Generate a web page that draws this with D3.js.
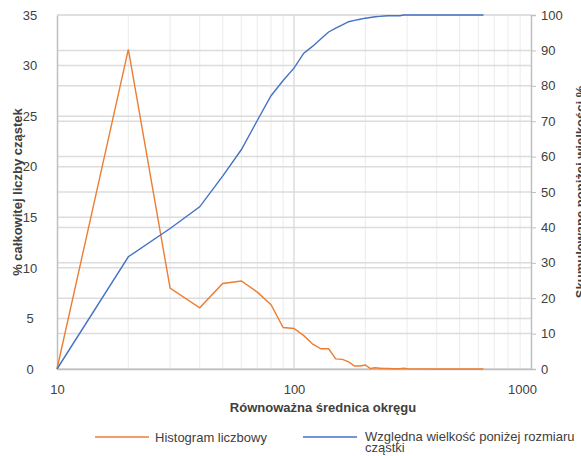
<!DOCTYPE html>
<html>
<head>
<meta charset="utf-8">
<script src="https://cdn.jsdelivr.net/npm/d3@7"></script>
<style>
  body { margin: 0; background: #fff; }
  text { font-family: "Liberation Sans", Arial, sans-serif; fill: #404040; }
</style>
</head>
<body>
<script>

// particle size bins (circle equivalent diameter)
var sizes = [10, 20, 30, 40, 50, 60, 70, 80, 90, 100,
  110, 120, 130, 140, 150, 160, 170, 180, 190, 200,
  210, 220, 230, 240, 250, 260, 270, 280, 290, 300,
  400, 500, 630];

// % of total particle count
var histogram = [0, 31.6, 8.0, 6.05, 8.45, 8.7, 7.6, 6.35, 4.1, 4.0,
  3.3, 2.45, 2.0, 2.0, 1.0, 0.95, 0.7, 0.3, 0.3, 0.4,
  0.05, 0.12, 0.08, 0.05, 0.05, 0.02, 0.02, 0.02, 0.07, 0.02,
  0, 0, 0];

// cumulative % under size
var cumulative = [0, 31.7, 39.7, 45.8, 54.5, 62, 70.2, 77.2, 81.5, 85,
  89.2, 91.2, 93.3, 95.2, 96.3, 97.2, 98.1, 98.5, 98.8, 99.1,
  99.3, 99.5, 99.6, 99.7, 99.8, 99.8, 99.8, 99.8, 100, 100,
  100, 100, 100];

var leftTicks = [0, 5, 10, 15, 20, 25, 30, 35];
var rightTicks = [0, 10, 20, 30, 40, 50, 60, 70, 80, 90, 100];
var xTicks = [10, 100, 1000];
var xMinor = [20, 30, 40, 50, 60, 70, 80, 90, 200, 300, 400, 500, 600, 700, 800, 900];

var seriesNames = ["Histogram liczbowy", "Względna wielkość poniżej rozmiaru cząstki"];
var colors = ["#ed7d31", "#4472c4"];

var W = 581, H = 456;
var margin = {top: 15, right: 50, bottom: 87, left: 57};
var w = W - margin.left - margin.right;
var h = H - margin.top - margin.bottom;

var svg = d3.select("body").append("svg")
    .attr("width", W)
    .attr("height", H);

var g = svg.append("g")
    .attr("transform", "translate(" + margin.left + "," + margin.top + ")");

var x = d3.scaleLog().domain([10, 1000]).range([0, w]);
var yL = d3.scaleLinear().domain([0, 35]).range([h, 0]);
var yR = d3.scaleLinear().domain([0, 100]).range([h, 0]);

// vertical grid
g.append("g").selectAll("line")
  .data(xMinor)
  .enter().append("line")
  .attr("x1", function(d) { return x(d); })
  .attr("x2", function(d) { return x(d); })
  .attr("y1", 0).attr("y2", h)
  .attr("stroke", "#efefef")
  .attr("stroke-width", 1.2);

g.append("line")
  .attr("x1", x(100)).attr("x2", x(100))
  .attr("y1", 0).attr("y2", h)
  .attr("stroke", "#dcdcdc")
  .attr("stroke-width", 1.5);

// horizontal grid for both axes
g.append("g").selectAll("line")
  .data(leftTicks)
  .enter().append("line")
  .attr("x1", 0).attr("x2", w)
  .attr("y1", function(d) { return yL(d); })
  .attr("y2", function(d) { return yL(d); })
  .attr("stroke", "#dcdcdc")
  .attr("stroke-width", 1.5);

g.append("g").selectAll("line")
  .data(rightTicks)
  .enter().append("line")
  .attr("x1", 0).attr("x2", w)
  .attr("y1", function(d) { return yR(d); })
  .attr("y2", function(d) { return yR(d); })
  .attr("stroke", "#dcdcdc")
  .attr("stroke-width", 1.5);

// left axis
var axL = g.append("g")
  .call(d3.axisLeft(yL).tickValues(leftTicks).tickSize(0).tickPadding(21));
axL.select(".domain").attr("stroke", "#bfbfbf").attr("stroke-width", 1.5);
axL.selectAll("text").attr("font-size", "13px").attr("text-anchor", "middle").attr("dx", "-6");

// right axis
var axR = g.append("g")
  .attr("transform", "translate(" + w + ",0)")
  .call(d3.axisRight(yR).tickValues(rightTicks).tickSize(5).tickPadding(5));
axR.select(".domain").attr("stroke", "#bfbfbf").attr("stroke-width", 1.5);
axR.selectAll("line").attr("stroke", "#bfbfbf");
axR.selectAll("text").attr("font-size", "13px");

// bottom axis
var axB = g.append("g")
  .attr("transform", "translate(0," + h + ")")
  .call(d3.axisBottom(x).tickValues(xTicks).tickFormat(d3.format("d")).tickSize(0).tickPadding(16));
axB.select(".domain").attr("stroke", "#bfbfbf").attr("stroke-width", 1.5);
axB.selectAll("text").attr("font-size", "13px")
  .attr("dx", function(d) { return d === 1000 ? -9 : 0; });

// lines
var lineL = d3.line()
  .x(function(d, i) { return x(sizes[i]); })
  .y(function(d) { return yL(d); });
var lineR = d3.line()
  .x(function(d, i) { return x(sizes[i]); })
  .y(function(d) { return yR(d); });

g.append("path")
  .datum(histogram)
  .attr("d", lineL)
  .attr("fill", "none")
  .attr("stroke", colors[0])
  .attr("stroke-width", 1.4);

g.append("path")
  .datum(cumulative)
  .attr("d", lineR)
  .attr("fill", "none")
  .attr("stroke", colors[1])
  .attr("stroke-width", 1.4);

// axis titles
svg.append("text")
  .attr("transform", "translate(22," + (margin.top + h / 2) + ") rotate(-90)")
  .attr("text-anchor", "middle")
  .attr("font-size", "13px")
  .attr("font-weight", "bold")
  .text("% całkowitej liczby cząstek");

svg.append("text")
  .attr("transform", "translate(585," + (margin.top + h / 2) + ") rotate(-90)")
  .attr("text-anchor", "middle")
  .attr("font-size", "13px")
  .attr("font-weight", "bold")
  .text("Skumulowane poniżej wielkości %");

svg.append("text")
  .attr("x", 323)
  .attr("y", 412)
  .attr("text-anchor", "middle")
  .attr("font-size", "13px")
  .attr("font-weight", "bold")
  .text("Równoważna średnica okręgu");

// legend
var legX = [95, 303];
for (var i = 0; i < 2; i++) {
  svg.append("line")
    .attr("x1", legX[i]).attr("x2", legX[i] + 54)
    .attr("y1", 437).attr("y2", 437)
    .attr("stroke", colors[i])
    .attr("stroke-width", 1.4);
}
svg.append("text")
  .attr("x", legX[0] + 60).attr("y", 442)
  .attr("font-size", "13px")
  .text(seriesNames[0]);

var t2 = svg.append("text")
  .attr("x", legX[1] + 62).attr("y", 441)
  .attr("font-size", "13px");
t2.append("tspan").attr("x", legX[1] + 62).text("Względna wielkość poniżej rozmiaru");
t2.append("tspan").attr("x", legX[1] + 62).attr("dy", 11).text("cząstki");

</script>
</body>
</html>
